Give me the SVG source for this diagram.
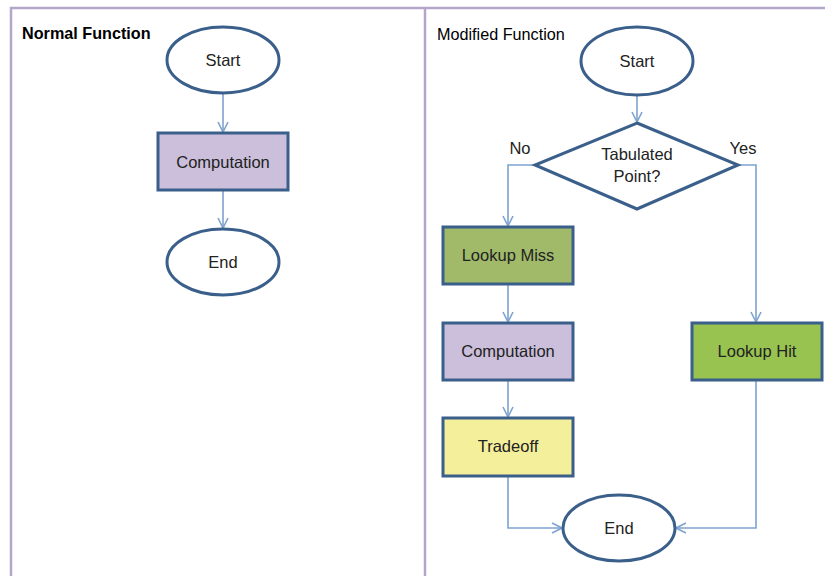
<svg xmlns="http://www.w3.org/2000/svg" width="825" height="576" viewBox="0 0 825 576">
  <style>
    .frame { fill: none; stroke: #b4a6cb; stroke-width: 2.5; }
    .node { stroke: #3a5f8b; stroke-width: 3; }
    .term { fill: #ffffff; }
    .comp { fill: #cbbfdb; }
    .miss { fill: #a0ba6a; }
    .hit { fill: #98c350; }
    .trade { fill: #f4ef9b; }
    .label { font-family: "Liberation Sans", Arial, sans-serif; font-size: 16.5px; fill: #222222; text-anchor: middle; }
    .title { font-family: "Liberation Sans", Arial, sans-serif; font-size: 16.2px; fill: #000000; }
    .conn { fill: none; stroke: #7ea3cf; stroke-width: 1.6; }
  </style>
  <defs>
    <marker id="arrow" viewBox="0 0 12 12" refX="11" refY="6" markerWidth="12" markerHeight="12" markerUnits="userSpaceOnUse" orient="auto">
      <path d="M1,1 L11,6 L1,11" fill="none" stroke="#7ea3cf" stroke-width="1.6"/>
    </marker>
  </defs>
  <rect width="825" height="576" fill="#ffffff"/>

  <!-- panel frames -->
  <g id="frames">
    <path class="frame" d="M11,576 L11,8 L825,8"/>
    <path class="frame" d="M425,8 L425,576"/>
  </g>

  <text class="title" x="22" y="39" font-weight="bold">Normal Function</text>
  <text class="title" x="437" y="40" font-size="15.5">Modified Function</text>

  <!-- connectors -->
  <g id="connectors">
    <path class="conn" d="M223,93 L223,132" marker-end="url(#arrow)"/>
    <path class="conn" d="M223,191 L223,228" marker-end="url(#arrow)"/>
    <path class="conn" d="M637,96 L637,122" marker-end="url(#arrow)"/>
    <path class="conn" d="M535,165 L508,165 L508,226" marker-end="url(#arrow)"/>
    <path class="conn" d="M738,165 L756,165 L756,322" marker-end="url(#arrow)"/>
    <path class="conn" d="M508,285 L508,322" marker-end="url(#arrow)"/>
    <path class="conn" d="M508,381 L508,417" marker-end="url(#arrow)"/>
    <path class="conn" d="M508,477 L508,528 L562,528" marker-end="url(#arrow)"/>
    <path class="conn" d="M756,381 L756,528 L676,528" marker-end="url(#arrow)"/>
  </g>

  <!-- normal function -->
  <g id="n-start">
    <ellipse class="node term" cx="223" cy="60" rx="56" ry="33"/>
    <text class="label" x="223" y="66">Start</text>
  </g>
  <g id="n-computation">
    <rect class="node comp" x="158" y="133" width="130" height="57"/>
    <text class="label" x="223" y="168">Computation</text>
  </g>
  <g id="n-end">
    <ellipse class="node term" cx="223" cy="262" rx="56" ry="33"/>
    <text class="label" x="223" y="268">End</text>
  </g>

  <!-- modified function -->
  <g id="m-start">
    <ellipse class="node term" cx="637" cy="61" rx="56" ry="34"/>
    <text class="label" x="637" y="67">Start</text>
  </g>
  <g id="m-decision">
    <polygon class="node term" points="637,123 738,165 637,209 535,165"/>
    <text class="label" x="637" y="160">Tabulated</text>
    <text class="label" x="637" y="182">Point?</text>
  </g>
  <text class="label" x="520" y="154">No</text>
  <text class="label" x="743" y="154">Yes</text>
  <g id="m-lookup-miss">
    <rect class="node miss" x="443" y="227" width="130" height="57"/>
    <text class="label" x="508" y="261">Lookup Miss</text>
  </g>
  <g id="m-computation">
    <rect class="node comp" x="443" y="323" width="130" height="57"/>
    <text class="label" x="508" y="357">Computation</text>
  </g>
  <g id="m-tradeoff">
    <rect class="node trade" x="443" y="418" width="130" height="58"/>
    <text class="label" x="508" y="452">Tradeoff</text>
  </g>
  <g id="m-lookup-hit">
    <rect class="node hit" x="692" y="323" width="130" height="57"/>
    <text class="label" x="757" y="357">Lookup Hit</text>
  </g>
  <g id="m-end">
    <ellipse class="node term" cx="619" cy="528" rx="56" ry="33"/>
    <text class="label" x="619" y="534">End</text>
  </g>
</svg>
